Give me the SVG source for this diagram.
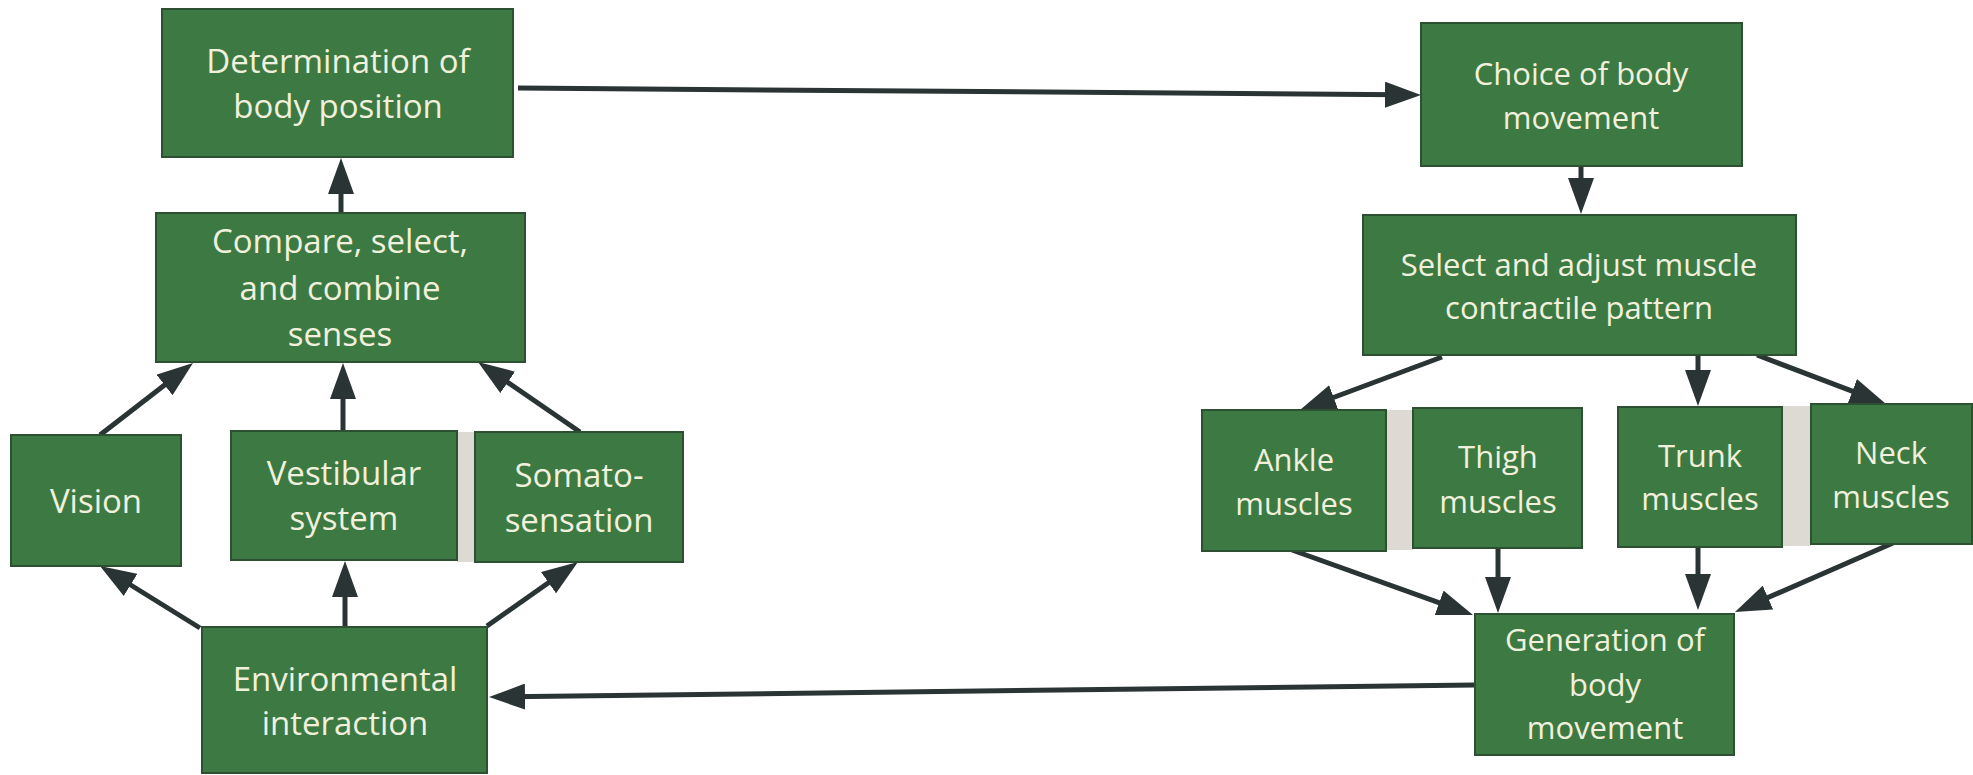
<svg xmlns="http://www.w3.org/2000/svg" width="1973" height="775" viewBox="0 0 1973 775">
<style>
.box{fill:#3d7a43;stroke:#2e5032;stroke-width:2}
.gap{fill:#dddad3}
.t{font-family:"Open Sans","Liberation Sans",sans-serif;fill:#f1f0dc;text-anchor:middle}
.l{font-size:33px}
.r{font-size:31px}
.c{stroke:#2a3434;stroke-width:5;fill:none;marker-end:url(#ah)}
</style>
<defs>
<marker id="ah" markerUnits="userSpaceOnUse" markerWidth="36" markerHeight="26" viewBox="0 0 36 26" refX="16" refY="13" orient="auto">
<path d="M0,0 L36,13 L0,26 Z" fill="#2a3434"/>
</marker>
</defs>
<rect width="1973" height="775" fill="#ffffff"/>
<g id="gaps">
<rect class="gap" x="457" y="432" width="18" height="130"/>
<rect class="gap" x="1386" y="410" width="27" height="140"/>
<rect class="gap" x="1782" y="406" width="29" height="140"/>
</g>
<g id="connectors">
<line class="c" x1="518" y1="88" x2="1401" y2="94.8"/>
<line class="c" x1="341" y1="213" x2="341" y2="178"/>
<line class="c" x1="100" y1="435" x2="177.2" y2="375.2"/>
<line class="c" x1="343" y1="431" x2="343" y2="383"/>
<line class="c" x1="580" y1="432" x2="494.5" y2="373.3"/>
<line class="c" x1="200" y1="628" x2="117" y2="576.5"/>
<line class="c" x1="345" y1="627" x2="345" y2="581"/>
<line class="c" x1="487" y1="626" x2="561.6" y2="573.5"/>
<line class="c" x1="1581" y1="166" x2="1581" y2="194"/>
<line class="c" x1="1442" y1="357" x2="1318.7" y2="403"/>
<line class="c" x1="1698" y1="355" x2="1698" y2="386"/>
<line class="c" x1="1757" y1="355" x2="1867.3" y2="396.9"/>
<line class="c" x1="1292" y1="550" x2="1454.2" y2="608.2"/>
<line class="c" x1="1498" y1="548" x2="1498" y2="593"/>
<line class="c" x1="1698" y1="547" x2="1698" y2="590"/>
<line class="c" x1="1893" y1="543" x2="1753.3" y2="604"/>
<line class="c" x1="1475" y1="685" x2="509" y2="696.8"/>
</g>
<g id="determination">
<rect class="box" x="162" y="9" width="351" height="148"/>
<text class="t l" x="338" y="73">Determination of</text>
<text class="t l" x="338" y="118">body position</text>
</g>
<g id="compare">
<rect class="box" x="156" y="213" width="369" height="149"/>
<text class="t l" x="340" y="253">Compare, select,</text>
<text class="t l" x="340" y="300">and combine</text>
<text class="t l" x="340" y="346">senses</text>
</g>
<g id="vision">
<rect class="box" x="11" y="435" width="170" height="131"/>
<text class="t l" x="96" y="513">Vision</text>
</g>
<g id="vestibular">
<rect class="box" x="231" y="431" width="226" height="129"/>
<text class="t l" x="344" y="485">Vestibular</text>
<text class="t l" x="344" y="530">system</text>
</g>
<g id="somatosensation">
<rect class="box" x="475" y="432" width="208" height="130"/>
<text class="t l" x="579" y="487">Somato-</text>
<text class="t l" x="579" y="532">sensation</text>
</g>
<g id="environmental">
<rect class="box" x="202" y="627" width="285" height="146"/>
<text class="t l" x="345" y="691">Environmental</text>
<text class="t l" x="345" y="735">interaction</text>
</g>
<g id="choice">
<rect class="box" x="1421" y="23" width="321" height="143"/>
<text class="t r" x="1581" y="85">Choice of body</text>
<text class="t r" x="1581" y="129">movement</text>
</g>
<g id="select">
<rect class="box" x="1363" y="215" width="433" height="140"/>
<text class="t r" x="1579" y="276">Select and adjust muscle</text>
<text class="t r" x="1579" y="319">contractile pattern</text>
</g>
<g id="ankle">
<rect class="box" x="1202" y="410" width="184" height="141"/>
<text class="t r" x="1294" y="471">Ankle</text>
<text class="t r" x="1294" y="515">muscles</text>
</g>
<g id="thigh">
<rect class="box" x="1413" y="408" width="169" height="140"/>
<text class="t r" x="1498" y="468">Thigh</text>
<text class="t r" x="1498" y="513">muscles</text>
</g>
<g id="trunk">
<rect class="box" x="1618" y="407" width="164" height="140"/>
<text class="t r" x="1700" y="467">Trunk</text>
<text class="t r" x="1700" y="510">muscles</text>
</g>
<g id="neck">
<rect class="box" x="1811" y="404" width="161" height="140"/>
<text class="t r" x="1891" y="464">Neck</text>
<text class="t r" x="1891" y="508">muscles</text>
</g>
<g id="generation">
<rect class="box" x="1475" y="614" width="259" height="141"/>
<text class="t r" x="1605" y="651">Generation of</text>
<text class="t r" x="1605" y="696">body</text>
<text class="t r" x="1605" y="739">movement</text>
</g>
</svg>
